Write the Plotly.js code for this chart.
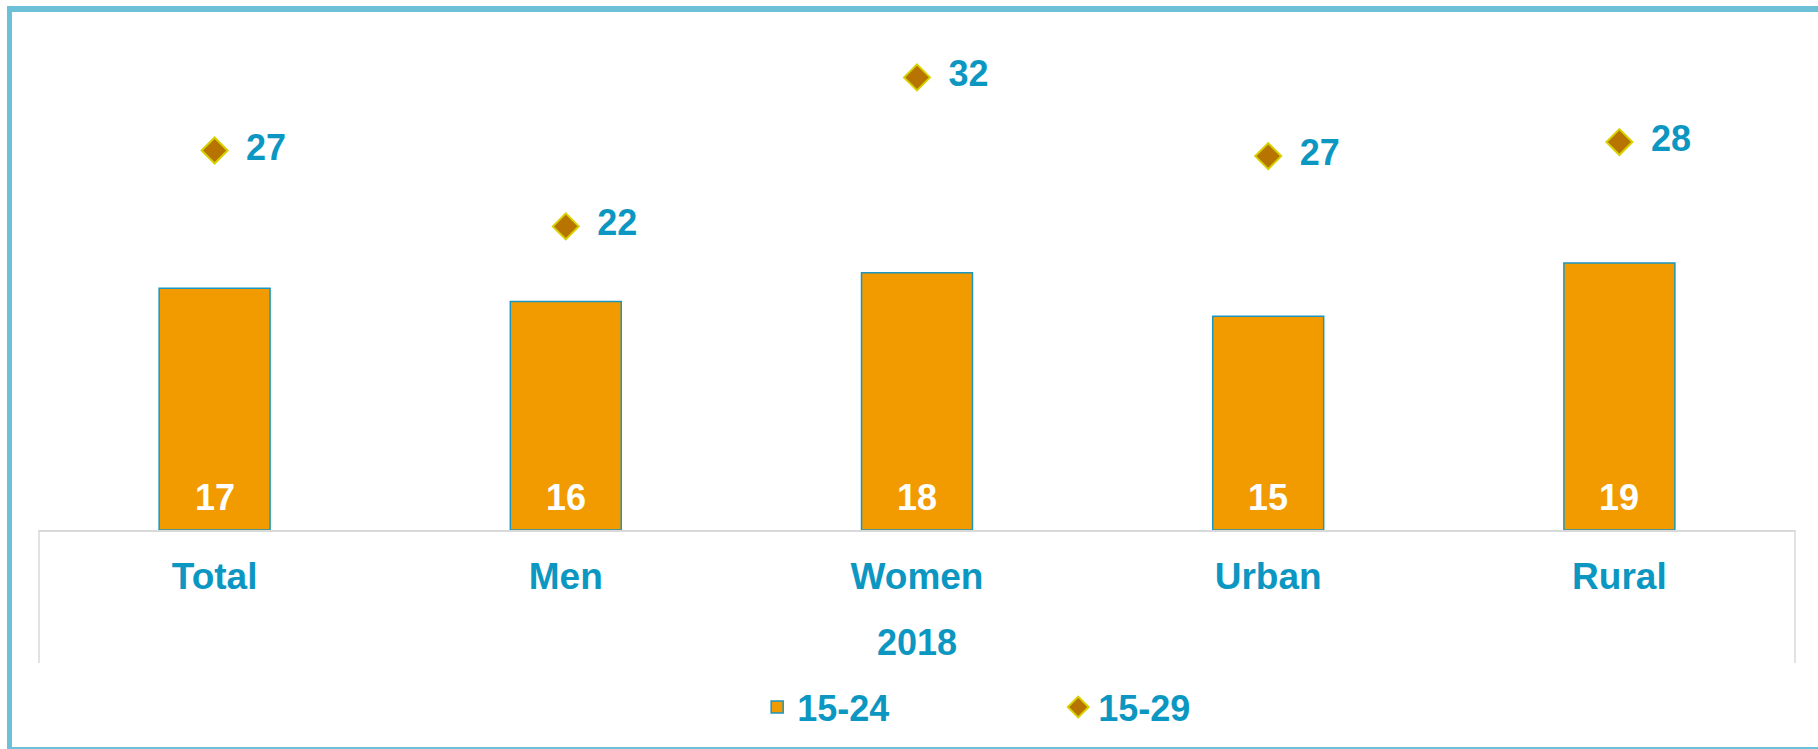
<!DOCTYPE html>
<html>
<head>
<meta charset="utf-8">
<script src="https://cdn.plot.ly/plotly-3.0.1.min.js"></script>
<style>
  html, body { margin: 0; padding: 0; background: #ffffff; }
  #wrap { position: relative; width: 1818px; height: 749px; overflow: hidden; }
  #chart { position: absolute; left: 0; top: 0; width: 1818px; height: 749px; }
  #frame { position: absolute; left: 7px; top: 6px; width: 1830px; height: 735px;
           border-left: 5px solid #6cc0d7; border-top: 6px solid #6cc0d7; border-bottom: 6px solid #6cc0d7;
           pointer-events: none; }
</style>
</head>
<body>
<div id="wrap">
  <div id="chart"></div>
  <div id="frame"></div>
</div>
<script>
// ---- data ----
const categories = ["Total", "Men", "Women", "Urban", "Rural"];
const axisTitle = "2018";
const seriesNames = ["15-24", "15-29"];
const values1524 = [17.2, 16.25, 18.3, 15.2, 19.0];
const values1529 = [27.0, 21.6, 32.2, 26.6, 27.6];

// ---- style ----
const FONT = "Liberation Sans, Arial, sans-serif";
const BLUE_TEXT = "#0b97c1";
const ORANGE = "#f29b00";
const BAR_EDGE = "#1a96c0";
const DIAMOND = "#b87400";
const DIAMOND_EDGE = "#d6d200";
const GRID = "#d9d9d9";

const traces = [
  {
    type: "bar",
    name: seriesNames[0],
    x: categories,
    y: values1524,
    width: 0.316,
    marker: { color: ORANGE, line: { color: BAR_EDGE, width: 1.5 } },
    hoverinfo: "skip"
  },
  {
    type: "scatter",
    mode: "markers+text",
    name: seriesNames[1],
    x: categories,
    y: values1529,
    marker: { symbol: "diamond", size: 20, color: DIAMOND, line: { color: DIAMOND_EDGE, width: 2 } },
    texttemplate: "\u2002%{y:.0f}",
    textposition: "middle right",
    textfont: { family: FONT, size: 36, color: BLUE_TEXT, weight: "bold" },
    hoverinfo: "skip"
  }
];

// value labels inside the bars, anchored at each bar's base
const barLabels = categories.map((c, i) => ({
  xref: "x", yref: "y",
  x: c, y: 0,
  text: values1524[i].toFixed(0),
  showarrow: false,
  yanchor: "bottom",
  yshift: 10,
  font: { family: FONT, size: 36, color: "#ffffff", weight: "bold" }
}));

const layout = {
  width: 1818,
  height: 749,
  margin: { l: 39, r: 23, t: 24, b: 219, pad: 0 },
  paper_bgcolor: "#ffffff",
  plot_bgcolor: "#ffffff",
  font: { family: FONT, color: BLUE_TEXT },
  showlegend: true,
  legend: {
    orientation: "h",
    x: 0.5804, xanchor: "center",
    y: -0.35, yanchor: "middle",
    font: { family: FONT, size: 36, color: BLUE_TEXT, weight: "bold" },
    itemwidth: 30,
    entrywidth: 256,
    traceorder: "normal"
  },
  xaxis: {
    type: "category",
    range: [-0.5, 4.5],
    showgrid: false,
    zeroline: false,
    showline: true,
    linecolor: GRID,
    linewidth: 1.5,
    ticks: "",
    ticklabelstandoff: 13,
    tickfont: { family: FONT, size: 37, color: BLUE_TEXT, weight: "bold" },
    title: { text: axisTitle, standoff: 34, font: { family: FONT, size: 36, color: BLUE_TEXT, weight: "bold" } },
    fixedrange: true
  },
  yaxis: {
    range: [0, 36],
    visible: false,
    showgrid: false,
    zeroline: false,
    fixedrange: true
  },
  annotations: barLabels,
  shapes: [
    { type: "line", xref: "paper", yref: "paper", x0: 0, x1: 0, y0: 0, y1: -0.263, line: { color: GRID, width: 1.5 } },
    { type: "line", xref: "paper", yref: "paper", x0: 1, x1: 1, y0: 0, y1: -0.263, line: { color: GRID, width: 1.5 } }
  ]
};

Plotly.newPlot("chart", traces, layout, { displayModeBar: false, staticPlot: true });
</script>
</body>
</html>
